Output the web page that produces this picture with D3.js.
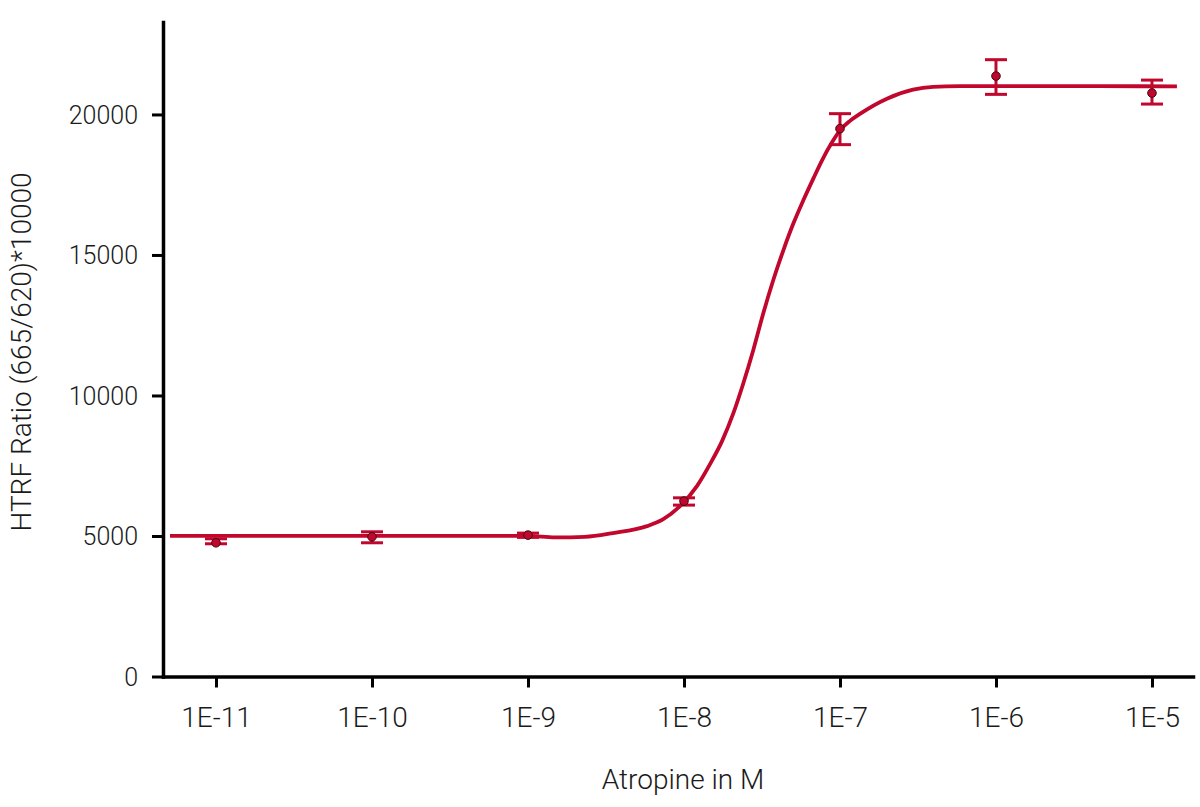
<!DOCTYPE html>
<html>
<head>
<meta charset="utf-8">
<script src="https://cdn.jsdelivr.net/npm/d3@7"></script>
<style>
  body { margin: 0; background: #fff; }
  svg text { font-family: Roboto, "Liberation Sans", sans-serif; font-weight: 300; fill: #1a1a1a; }
</style>
</head>
<body>
<div id="plot"></div>
<script>
// Tick labels on the concentration axis
const concTicks = [1e-11, 1e-10, 1e-9, 1e-8, 1e-7, 1e-6, 1e-5];
const concTickLabels = ["1E-11", "1E-10", "1E-9", "1E-8", "1E-7", "1E-6", "1E-5"];
const ratioTicks = [0, 5000, 10000, 15000, 20000];

// Measured points (mean with error bar ends)
const conc = [1e-11, 1e-10, 1e-9, 1e-8, 1e-7, 1e-6, 1e-5];
const ratioMean = [4758, 4972, 5032, 6241, 19495, 21366, 20761];
const ratioLow = [4723, 4758, 4950, 6099, 18926, 20715, 20370];
const ratioHigh = [4900, 5149, 5103, 6358, 20028, 21949, 21223];

// Fitted curve (log10 of concentration, ratio)
const fitLogConc = [-11.295, -10.462, -9.5, -9.0, -8.827, -8.635, -8.455, -8.237, -8.135, -8.026,
  -7.917, -7.833, -7.756, -7.684, -7.62, -7.556, -7.492, -7.428, -7.363, -7.299, -7.235, -7.171,
  -7.115, -7.051, -7.0, -6.936, -6.872, -6.699, -6.532, -6.404, -6.231, -5.974, -5.333, -4.84];
const fitRatio = [5007, 5007, 5007, 5007, 4950, 4968, 5103, 5352, 5590, 6063,
  6775, 7557, 8375, 9360, 10427, 11611, 12916, 14100, 15167, 16117, 16945, 17717,
  18368, 19008, 19435, 19772, 20021, 20562, 20882, 20982, 21007, 21010, 21007, 21000];

const width = 1200;
const height = 807;
const red = "#c1072d";

const svg = d3.select("#plot")
  .append("svg")
  .attr("width", width)
  .attr("height", height);

const x = d3.scaleLog()
  .domain([Math.pow(10, -11.3397), Math.pow(10, -4.737)])
  .range([163, 1193]);

const y = d3.scaleLinear()
  .domain([0, 23290])
  .range([676.5, 22]);

// x axis
const xAxis = svg.append("g")
  .attr("transform", "translate(0,676.5)")
  .call(d3.axisBottom(x)
    .tickValues(concTicks)
    .tickFormat((d, i) => concTickLabels[i])
    .tickSizeInner(11)
    .tickSizeOuter(0)
    .tickPadding(20));

// y axis
const yAxis = svg.append("g")
  .attr("transform", "translate(163,0)")
  .call(d3.axisLeft(y)
    .tickValues(ratioTicks)
    .tickFormat(d3.format("d"))
    .tickSizeInner(11)
    .tickSizeOuter(0)
    .tickPadding(14));

[xAxis, yAxis].forEach(g => {
  g.select(".domain").attr("stroke", "#000").attr("stroke-width", 3.5).attr("stroke-linecap", "square");
  g.selectAll(".tick line").attr("stroke", "#000").attr("stroke-width", 3);
});

xAxis.selectAll(".tick text").style("font-size", "28px");
yAxis.selectAll(".tick text").style("font-size", "25px").attr("dy", "0.36em");

// axis titles
svg.append("text")
  .attr("x", 683)
  .attr("y", 789)
  .attr("text-anchor", "middle")
  .style("font-size", "28px")
  .text("Atropine in M");

svg.append("text")
  .attr("transform", "translate(31,352) rotate(-90)")
  .attr("text-anchor", "middle")
  .style("font-size", "28px")
  .text("HTRF Ratio (665/620)*10000");

// fitted curve
const fit = fitLogConc.map((d, i) => [Math.pow(10, d), fitRatio[i]]);
svg.append("path")
  .datum(fit)
  .attr("fill", "none")
  .attr("stroke", red)
  .attr("stroke-width", 3.8)
  .attr("d", d3.line()
    .x(d => x(d[0]))
    .y(d => y(d[1]))
    .curve(d3.curveMonotoneX));

// error bars
const points = conc.map((c, i) => ({c: c, m: ratioMean[i], lo: ratioLow[i], hi: ratioHigh[i]}));
const bars = svg.append("g")
  .attr("stroke", red)
  .attr("stroke-width", 3);

bars.selectAll("line.stem")
  .data(points)
  .join("line")
  .attr("class", "stem")
  .attr("x1", d => x(d.c))
  .attr("x2", d => x(d.c))
  .attr("y1", d => y(d.lo))
  .attr("y2", d => y(d.hi));

bars.selectAll("line.cap-hi")
  .data(points)
  .join("line")
  .attr("class", "cap-hi")
  .attr("x1", d => x(d.c) - 11)
  .attr("x2", d => x(d.c) + 11)
  .attr("y1", d => y(d.hi))
  .attr("y2", d => y(d.hi));

bars.selectAll("line.cap-lo")
  .data(points)
  .join("line")
  .attr("class", "cap-lo")
  .attr("x1", d => x(d.c) - 11)
  .attr("x2", d => x(d.c) + 11)
  .attr("y1", d => y(d.lo))
  .attr("y2", d => y(d.lo));

// mean points
svg.selectAll("circle.point")
  .data(points)
  .join("circle")
  .attr("class", "point")
  .attr("cx", d => x(d.c))
  .attr("cy", d => y(d.m))
  .attr("r", 4.3)
  .attr("fill", red)
  .attr("stroke", "#3a0a10")
  .attr("stroke-width", 1);
</script>
</body>
</html>
